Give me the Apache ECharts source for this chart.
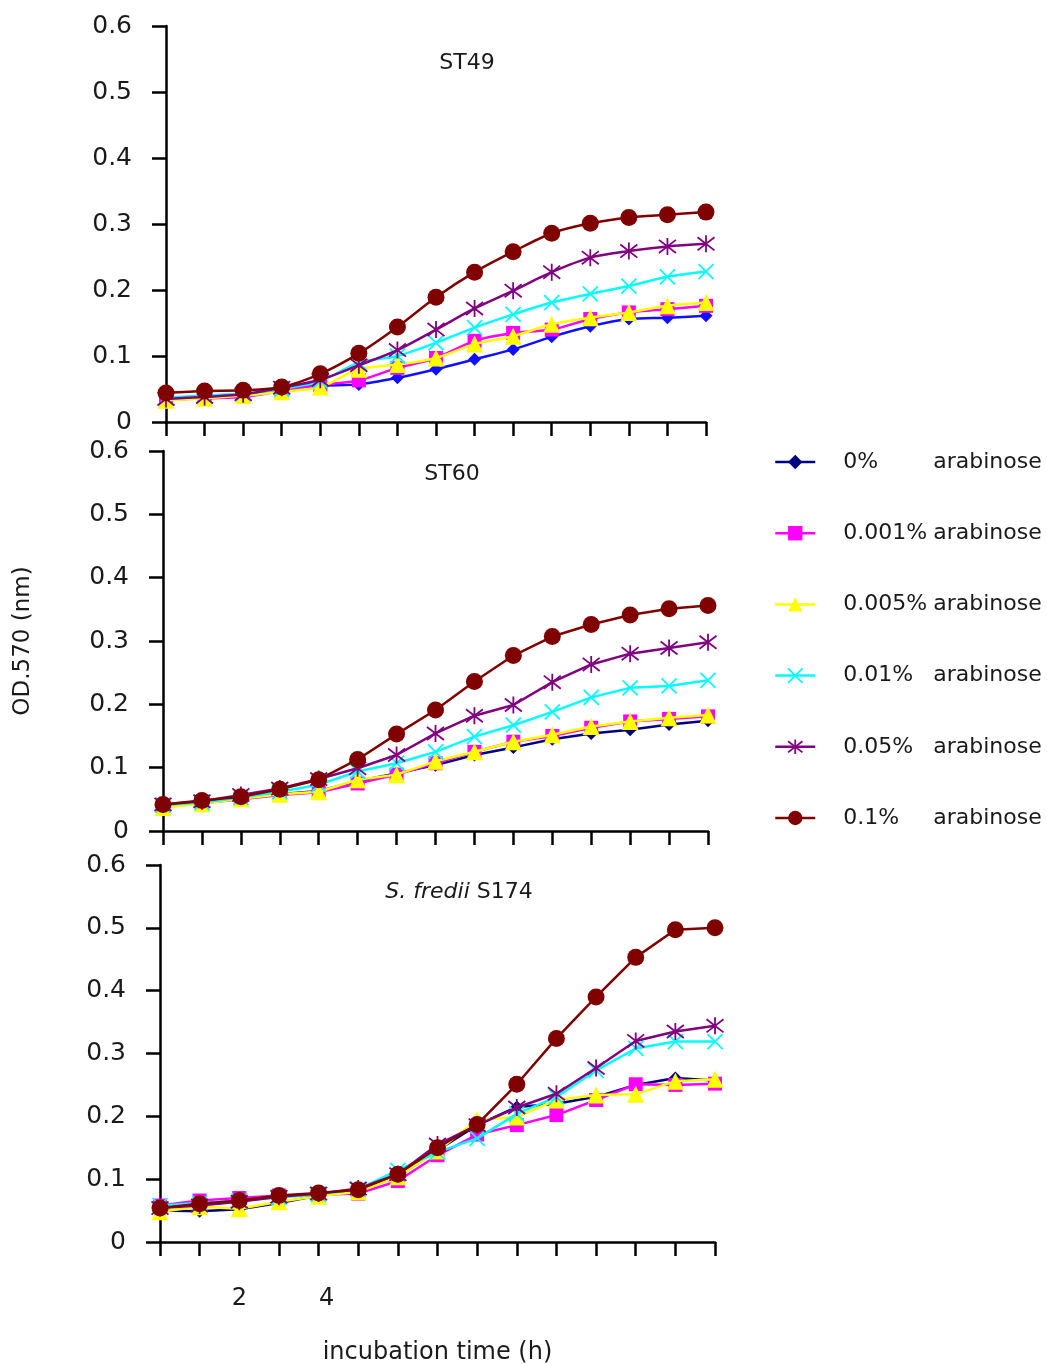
<!DOCTYPE html>
<html>
<head>
<meta charset="utf-8">
<script src="https://cdn.jsdelivr.net/npm/echarts@6/dist/echarts.min.js"></script>
<style>
html,body{margin:0;padding:0;background:#fff;}
#chart{width:1047px;height:1364px;}
</style>
</head>
<body>
<div id="chart"></div>
<script>
// ---------- data ----------
const hours = [0,1,2,3,4,5,6,7,8,9,10,11,12,13,14];
const xTickLabels = ['2','4'];
const yTicks = [0,0.1,0.2,0.3,0.4,0.5,0.6];
const seriesNames = ['0%','0.001%','0.005%','0.01%','0.05%','0.1%'];
const panelTitles = ['ST49','ST60','S. fredii S174'];

const st49_0   = [0.036,0.038,0.041,0.049,0.055,0.057,0.067,0.080,0.095,0.110,0.129,0.145,0.156,0.158,0.161];
const st49_001 = [0.033,0.036,0.038,0.047,0.056,0.063,0.082,0.097,0.123,0.135,0.140,0.156,0.166,0.171,0.176];
const st49_005 = [0.033,0.036,0.040,0.046,0.053,0.080,0.087,0.097,0.118,0.130,0.148,0.158,0.166,0.176,0.181];
const st49_01  = [0.037,0.040,0.043,0.050,0.062,0.090,0.100,0.120,0.143,0.163,0.181,0.194,0.206,0.220,0.228];
const st49_05  = [0.035,0.038,0.042,0.052,0.064,0.086,0.109,0.140,0.172,0.199,0.227,0.249,0.259,0.266,0.270];
const st49_1   = [0.044,0.047,0.048,0.053,0.073,0.104,0.144,0.189,0.227,0.258,0.286,0.301,0.310,0.314,0.318];

const st60_0   = [0.039,0.045,0.051,0.058,0.063,0.079,0.091,0.104,0.120,0.132,0.145,0.154,0.160,0.168,0.174];
const st60_001 = [0.038,0.044,0.050,0.057,0.061,0.075,0.089,0.107,0.125,0.141,0.150,0.163,0.173,0.177,0.181];
const st60_005 = [0.037,0.043,0.051,0.058,0.062,0.081,0.089,0.110,0.125,0.141,0.152,0.165,0.173,0.179,0.183];
const st60_01  = [0.041,0.045,0.053,0.062,0.073,0.094,0.107,0.125,0.149,0.167,0.188,0.211,0.226,0.229,0.238];
const st60_05  = [0.042,0.047,0.057,0.067,0.082,0.099,0.120,0.154,0.182,0.199,0.235,0.263,0.280,0.289,0.298];
const st60_1   = [0.042,0.048,0.054,0.066,0.081,0.113,0.153,0.191,0.236,0.277,0.307,0.326,0.341,0.351,0.356];

const s174_0   = [0.050,0.049,0.052,0.062,0.074,0.081,0.104,0.146,0.186,0.215,0.220,0.231,0.250,0.261,0.257];
const s174_001 = [0.058,0.066,0.070,0.074,0.075,0.077,0.097,0.138,0.171,0.186,0.202,0.226,0.251,0.250,0.252];
const s174_005 = [0.048,0.056,0.053,0.064,0.073,0.080,0.104,0.145,0.194,0.199,0.226,0.234,0.235,0.256,0.259];
const s174_01  = [0.058,0.062,0.066,0.071,0.076,0.084,0.114,0.143,0.165,0.204,0.231,0.273,0.308,0.319,0.319];
const s174_05  = [0.054,0.058,0.064,0.072,0.077,0.085,0.108,0.155,0.186,0.214,0.236,0.277,0.320,0.335,0.344];
const s174_1   = [0.054,0.061,0.066,0.074,0.078,0.083,0.108,0.150,0.187,0.251,0.324,0.390,0.453,0.497,0.500];

const panels = [
  [st49_0, st49_001, st49_005, st49_01, st49_05, st49_1],
  [st60_0, st60_001, st60_005, st60_01, st60_05, st60_1],
  [s174_0, s174_001, s174_005, s174_01, s174_05, s174_1]
];

// ---------- styles ----------
const FONT = 'DejaVu Sans';
const TXT = '#1a1a1a';
const colorsByPanel = [
  ['#1010ff','#ff00ff','#ffff00','#00ffff','#800080','#800000'],
  ['#000080','#ff00ff','#ffff00','#00ffff','#800080','#800000'],
  ['#000080','#ff00ff','#ffff00','#00ffff','#800080','#800000']
];
const legendColors = ['#000080','#ff00ff','#ffff00','#00ffff','#800080','#800000'];
const XPATH = 'path://M0,0L10,10M10,0L0,10';
const STARPATH = 'path://M0,0L10,10M10,0L0,10M5,-1.5L5,11.5';
const symbols = ['diamond','rect','triangle',XPATH,STARPATH,'circle'];
const symbolSizes = [13,14,17,15,17,17];

const grids = [
  {left:166, top:26, width:540, height:396, containLabel:false, outerBoundsMode:'none'},
  {left:163, top:451, width:545, height:380, containLabel:false, outerBoundsMode:'none'},
  {left:160, top:865, width:555, height:377, containLabel:false, outerBoundsMode:'none'}
];

const xAxes = grids.map((g,gi)=>({
  gridIndex: gi, type:'category', data: hours.map(String), boundaryGap:false,
  axisLine:{lineStyle:{color:'#000', width:2.5}},
  axisTick:{show:true, inside:false, length:14, alignWithLabel:true, interval:0, lineStyle:{color:'#000', width:2.5}},
  axisLabel:{
    show: gi===2, interval:0, margin:45, color:TXT, fontFamily:FONT, fontSize:24,
    formatter: v => xTickLabels.indexOf(v) >= 0 ? (v==='4' ? '{r|'+v+'}' : v) : '',
    rich:{r:{fontFamily:FONT, fontSize:24, color:TXT, padding:[0,0,0,16]}}
  },
  splitLine:{show:false},
  name: gi===2 ? 'incubation time (h)' : '',
  nameLocation:'middle', nameGap:99,
  nameTextStyle:{color:TXT, fontFamily:FONT, fontSize:24}
}));

const yAxes = grids.map((g,gi)=>({
  gridIndex: gi, type:'value', min:yTicks[0], max:yTicks[yTicks.length-1], interval:0.1,
  axisLine:{show:true, lineStyle:{color:'#000', width:2.5}},
  axisTick:{show:true, inside:false, length:14, lineStyle:{color:'#000', width:2.5}},
  axisLabel:{margin:34, color:TXT, fontFamily:FONT, fontSize:25,
    formatter: v => v===0 ? '0' : v.toFixed(1)},
  splitLine:{show:false},
  name: gi===1 ? 'OD.570 (nm)' : '',
  nameLocation:'middle', nameGap:128, nameRotate:90,
  nameTextStyle:{color:TXT, fontFamily:FONT, fontSize:23}
}));

const series = [];
panels.forEach((arrs, pi)=>{
  arrs.forEach((vals, si)=>{
    const c = colorsByPanel[pi][si];
    const isPath = si===3 || si===4;
    series.push({
      name: seriesNames[si],
      type:'line', xAxisIndex:pi, yAxisIndex:pi,
      data: vals,
      smooth: pi===0 ? 0.3 : false,
      symbol: symbols[si], symbolSize: symbolSizes[si], showAllSymbol:true,
      lineStyle:{color:c, width:2.5},
      itemStyle: isPath ? {color:c, borderColor:c, borderWidth:1.8} : {color:c, borderWidth:0},
      emphasis:{disabled:true},
      z: 2+si
    });
  });
});

const titleStyle = {color:TXT, fontFamily:FONT, fontSize:22, fontWeight:'normal'};

const option = {
  backgroundColor:'#ffffff',
  animation:false,
  title:[
    {text:panelTitles[0], left:462, top:47, textAlign:'center', textStyle:titleStyle},
    {text:panelTitles[1], left:447, top:458, textAlign:'center', textStyle:titleStyle},
    {text:'{i|S. fredii} S174', left:454, top:876, textAlign:'center',
      textStyle:Object.assign({}, titleStyle, {rich:{i:{fontStyle:'italic', fontFamily:FONT, fontSize:22, color:TXT}}})}
  ],
  legend:{
    orient:'vertical', left:774, top:451, padding:0, itemWidth:40, itemHeight:18, itemGap:49.2,
    selectedMode:false,
    data: seriesNames.map((n,i)=>({
      name:n,
      itemStyle:{color:legendColors[i], borderColor:legendColors[i], borderWidth:(i===3||i===4)?1.8:0},
      lineStyle:{color:legendColors[i], width:2.5}
    })),
    formatter: n => '{p|'+n+'}{a|arabinose}',
    textStyle:{
      color:TXT, fontFamily:FONT, fontSize:22, padding:[0,0,0,23],
      rich:{
        p:{width:90, fontFamily:FONT, fontSize:22, color:TXT, lineHeight:22},
        a:{fontFamily:FONT, fontSize:22, color:TXT, lineHeight:22}
      }
    }
  },
  grid: grids,
  xAxis: xAxes,
  yAxis: yAxes,
  series: series
};

const chart = echarts.init(document.getElementById('chart'), null, {renderer:'canvas'});
chart.setOption(option);
</script>
</body>
</html>
